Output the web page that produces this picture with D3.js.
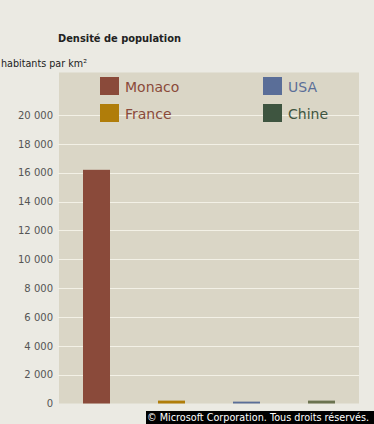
<!DOCTYPE html>
<html><head><meta charset="utf-8">
<script src="https://cdn.jsdelivr.net/npm/d3@7"></script>
<style>html,body{margin:0;padding:0;background:#EBEAE3;}svg{display:block;}</style>
</head><body>
<svg id="c" width="374" height="424"></svg>
<script>
const categories = ["Monaco", "France", "USA", "Chine"];
const values = [16200, 200, 130, 200];
const barColors = ["#8A4A3A", "#B07D0A", "#5A6E98", "#6B7350"];
const legendColors = ["#8A4A3A", "#B07D0A", "#5A6E98", "#3E5540"];
const legendTextColors = ["#8A4A3A", "#8A4A3A", "#5A6E98", "#3E5540"];
const tickValues = [0, 2000, 4000, 6000, 8000, 10000, 12000, 14000, 16000, 18000, 20000];

const svg = d3.select("#c");
const pLeft = 59, pRight = 359, pTop = 72.5, pBottom = 403.5;
const font = "Verdana, 'DejaVu Sans', sans-serif";
svg.append("rect").attr("x", pLeft).attr("y", pTop).attr("width", pRight - pLeft).attr("height", pBottom - pTop).attr("fill", "#DAD6C6");

const y = d3.scaleLinear().domain([0, 20000]).range([pBottom, pBottom - 288.5]);
const x = d3.scaleBand().domain(categories).range([pLeft, pRight]).padding(0);

const fmt = v => d3.format(",")(v).replace(/,/g, " ");

// gridlines
svg.append("g").selectAll("line").data(tickValues.filter(v => v > 0)).join("line")
  .attr("x1", pLeft - 1).attr("x2", pRight)
  .attr("y1", d => Math.round(y(d)) + 0.5).attr("y2", d => Math.round(y(d)) + 0.5)
  .attr("stroke", "#F3F1E6").attr("stroke-width", 1);

// axis
const axis = d3.axisLeft(y).tickValues(tickValues).tickFormat(fmt).tickSize(0).tickPadding(6);
const ag = svg.append("g").attr("transform", `translate(${pLeft},0)`).call(axis);
ag.select(".domain").remove();
ag.selectAll("text").attr("font-family", font).attr("font-size", 10).attr("fill", "#555");

// bars
svg.append("g").selectAll("rect").data(categories).join("rect")
  .attr("x", d => x(d) + x.bandwidth() / 2 - 13.5)
  .attr("width", 27)
  .attr("y", (d, i) => y(values[i]))
  .attr("height", (d, i) => pBottom - y(values[i]))
  .attr("fill", (d, i) => barColors[i]);

// legend
const legPos = [[100, 77], [100, 104], [263, 77], [263, 104]];
const lg = svg.append("g").selectAll("g").data(categories).join("g")
  .attr("transform", (d, i) => `translate(${legPos[i][0]},${legPos[i][1]})`);
lg.append("rect").attr("width", 19).attr("height", 18).attr("fill", (d, i) => legendColors[i]);
lg.append("text").attr("x", 25).attr("y", 15).text(d => d)
  .attr("font-family", font).attr("font-size", 14)
  .attr("fill", (d, i) => legendTextColors[i]);

// title
svg.append("text").attr("x", 58).attr("y", 42).text("Densité de population")
  .attr("font-family", font).attr("font-size", 10.5).attr("font-weight", "bold").attr("fill", "#222")
  .attr("textLength", 123).attr("lengthAdjust", "spacingAndGlyphs");
svg.append("text").attr("x", 1).attr("y", 67).text("habitants par km²")
  .attr("font-family", font).attr("font-size", 10.5).attr("fill", "#222")
  .attr("textLength", 86).attr("lengthAdjust", "spacingAndGlyphs");

// copyright
svg.append("rect").attr("x", 146).attr("y", 411).attr("width", 228).attr("height", 13).attr("fill", "#000");
svg.append("text").attr("x", 147).attr("y", 421).text("© Microsoft Corporation. Tous droits réservés.")
  .attr("font-family", "Tahoma, 'DejaVu Sans', sans-serif").attr("font-size", 11).attr("fill", "#fff")
  .attr("textLength", 222).attr("lengthAdjust", "spacingAndGlyphs");
</script>
</body></html>
